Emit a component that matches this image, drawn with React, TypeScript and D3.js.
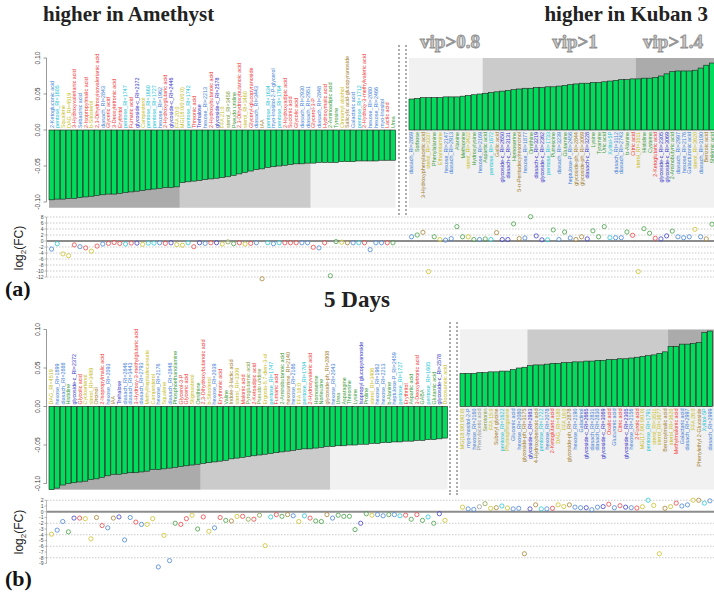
import React from 'react';
import * as d3 from 'd3';

const W = 714;
const H = 593;

const COLORS: Record<string, string> = {
  r: '#ee3b3b', b: '#3f7fd6', c: '#1cc3d4', y: '#c8bd1c', n: '#3535c8',
  g: '#3b9b3b', w: '#a37c2a', o: '#7fa040', s: '#9a9a9a',
};

// ---------- Panel (a): higher in Amethyst ----------
const leftA_names = [
  '2-Ketogluconic acid', 'pentose_RI=1605', 'Squalene', 'DAG_RI=4519', '3-Hydroxyvalerianic acid',
  'Sebacinic acid', '2-Isopropylmalic acid', 'b-Sitosterol', '2,3-Dihydroxyisovalerianic acid', 'diasach_RI=2843',
  'Glyceric acid', '3-Deoxytetronic acid', 'Erythritol', 'pentose_RI=1747', 'Fumaric acid',
  'glycoside-c_RI=2372', 'Campesterol', 'pentose_RI=1660', 'pentose_RI=1727', 'hexose_RI=1962',
  '2-Hydroxyglutaric acid', 'glycoside-c_RI=2446', 'FFA 20:0', 'MG(18:0/0:0/0:0)', 'pentose_RI=1742',
  'Threonic acid', 'Trehalose', 'hexose_RI=2213', '2-Hydroxybutanoic acid', 'glycoside-c_RI=2578',
  'FFA 21:0', 'sterol_RI=3458', 'Pseudo uridine', '2,3-Dihydroxybutanoic acid', 'sterol_RI=3460',
  'Glyceryl-glucopyranoside', 'diasach_RI=3443', 'IAA', 'pentose_RI=1634', 'myo-Inositol-2-P-glycerol',
  'pentose_RI=1764', '2-Hydroxyadipic acid', 'Succinic acid', 'Glycolic acid', 'diasach_RI=2930',
  'diasach_RI=2951', 'Glycerol-3-P', 'diasach_RI=2848', 'Hydroxymalic acid', '2-Aminoadipic acid',
  'Tyrosine', 'Cinnamyl alcohol', 'Salicylic acid-glucopyranoside', 'Galactaric acid', 'pentose_RI=1712',
  '2-Hydroxy-3-methylvaleric acid', 'hexose_RI=2080', 'hexose_RI=2466', 'myo-Inositol', 'Lactic acid',
  'Urea',
];
const leftA_cls = [
  'b', 'c', 'y', 'y', 'r', 'b', 'r', 'y', 'r', 'b',
  'r', 'r', 'r', 'c', 'r', 'n', 'y', 'c', 'c', 'b',
  'r', 'n', 'y', 'y', 'c', 'r', 'n', 'b', 'r', 'n',
  'y', 'o', 'g', 'r', 'y', 'r', 'b', 'w', 'c', 'b',
  'c', 'r', 'r', 'r', 'b', 'b', 'r', 'b', 'r', 'g',
  'g', 'y', 'w', 'b', 'c', 'r', 'b', 'b', 'b', 'r',
  'g',
];
const leftA_vip = [
  -0.097, -0.096, -0.096, -0.095, -0.095, -0.094, -0.093, -0.092, -0.091, -0.090,
  -0.089, -0.089, -0.088, -0.087, -0.086, -0.085, -0.084, -0.083, -0.082, -0.081,
  -0.080, -0.080, -0.079,
  -0.073, -0.072, -0.071, -0.070, -0.069, -0.068, -0.067, -0.066, -0.065, -0.063,
  -0.061, -0.059, -0.057, -0.055, -0.054, -0.052, -0.051, -0.050, -0.049, -0.048,
  -0.047, -0.047, -0.046,
  -0.046, -0.045, -0.045, -0.045, -0.045, -0.044, -0.044, -0.044, -0.043, -0.043,
  -0.043, -0.043, -0.042, -0.042, -0.042,
];
const leftA_groups = [23, 23, 15];
const leftA_fc = [
  -2.7, -0.9, -4.3, -4.9, -1.3, -1.9, -2.3, -3.4, -1.7, -1.0,
  -0.8, -0.5, -0.8, -1.0, -0.7, -0.7, -1.1, -0.7, -0.7, -0.6,
  -0.8, -0.6, -1.2, -1.4, -0.6, -1.9, -0.6, -0.8, -0.6, -0.6,
  -1.0, -0.3, -0.9, -0.6, -1.0, -0.8, -0.6, -12.6, -0.6, -0.9,
  -0.6, -0.6, -0.6, -0.6, -0.6, -0.6, -2.1, -2.3, -0.6, -11.6,
  -0.2, -0.4, -0.6, -0.6, -0.6, -0.6, -2.9, -0.6, -0.6, -0.6,
  -0.6,
];

const rightA_names = [
  'diasach_RI=2869', 'Sorbose', '3-Hydroxyphenylacetic acid', 'sterol_RI=3337', 'Phenylalanine',
  'Ethanolamine', 'hexose_RI=2147', 'diasach_RI=2913', 'Alanine', 'Methionine',
  'sterol_RI=3422', 'Hydroxylysine', 'hexose_RI=2169', 'Aspartic acid', 'pentose_RI=1672',
  'Gallic acid', 'glycoside-c_RI=2650', 'diasach-c_RI=3131', 'Homoserine', '5-n-Pentadecylresorcinol',
  'hexose_RI=1877', 'Ornithine', 'diasach-c_RI=3219', 'glycoside-c_RI=2362', 'pentose_RI=1733',
  'Putrescine', 'diasach_RI=3239', 'Glutamine', 'heptulose-P_RI=2456', 'glycoside-ph_RI=2844',
  'glycoside-ph_RI=3069', 'diasach-c_RI=3228', 'Lysine', 'Tyramine', 'Uric acid',
  'Xylitol-5P', 'diasach_RI=3112', 'diasach_RI=2743', 'b-Alanine', 'Citric acid',
  'sterol_RI=3511', 'Histidine', 'Cysteine', '2-Ketoglutaric acid', 'glycoside-c_RI=2305',
  'glycoside-c_RI=3069', '2-Aminobutyric acid', 'diasach_RI=2997', 'hexose_RI=2176', 'Galacturonic acid',
  'sterol_RI=3620', 'diasach_RI=3190', 'Benzoic acid', 'Shikimic acid',
];
const rightA_cls = [
  'b', 'g', 'w', 'y', 'g', 'y', 'b', 'b', 'g', 'g',
  'y', 'g', 'b', 'g', 'c', 'w', 'n', 'n', 'g', 'w',
  'b', 'g', 'n', 'n', 'c', 'g', 'b', 'g', 'b', 'w',
  'w', 'n', 'g', 'g', 'g', 'c', 'b', 'b', 'g', 'r',
  'y', 'g', 'g', 'r', 'n', 'n', 'g', 'b', 'b', 'b',
  'y', 'b', 'w', 'g',
];
const rightA_vip = [
  0.043, 0.044, 0.045, 0.045, 0.045, 0.045, 0.046, 0.046, 0.046, 0.047, 0.048, 0.049, 0.050,
  0.051, 0.052, 0.053, 0.054, 0.055, 0.056, 0.057, 0.058, 0.058, 0.059, 0.059, 0.060, 0.060,
  0.061, 0.062, 0.063, 0.064, 0.065, 0.065, 0.066, 0.066, 0.067, 0.068, 0.069, 0.070, 0.070, 0.071,
  0.071, 0.072, 0.072, 0.073, 0.075, 0.078, 0.081, 0.082, 0.082, 0.082, 0.083, 0.086, 0.090, 0.093,
];
const rightA_groups = [13, 27, 14];
const rightA_fc = [
  1.4, 2.0, 2.9, -10.2, 1.4, 0.5, 0.3, 0.8, 4.8, 1.4,
  1.4, 0.5, 0.5, 0.7, 0.5, 2.8, 0.5, 0.5, 5.7, 0.8,
  1.0, 8.1, 1.7, 0.4, 0.4, 3.7, 0.5, 3.0, 1.0, 0.5,
  1.4, 0.7, 3.4, 1.4, 4.8, 1.1, 1.1, 1.1, 3.0, 1.9,
  -10.2, 4.1, 2.6, 0.9, 0.7, 1.7, 3.3, 1.4, 1.1, 1.4,
  3.9, 1.4, 0.7, 5.6,
];

// ---------- Panel (b): 5 Days ----------
const leftB_names = [
  'DAG_RI=4519', 'hexose_RI=1899', 'diasach_RI=2888', 'Histidine', 'glycoside-c_RI=2372',
  'Glycolic acid', 'Cycloartenol', 'sterol_RI=3489', 'Orcinol', '2-Isopropylmalic acid',
  'hexose_RI=2093', 'IAA', 'Trehalose', 'diasach_RI=2846', 'diasach_RI=3443',
  '3-Hydroxy-3-methylglutaric acid', 'diasach_RI=2793', 'Methylheptadecanoate', 'Campesterol', 'hexose_RI=2176',
  'Squalene', 'diasach_RI=2848', 'Phosphoethanolamine', 'Glycerol-3-P', 'Glyceric acid',
  'Stigmasterol', 'Ornithine', '2,3-Dihydroxybutanoic acid', 'b-Sitosterol', 'hexose_RI=2039',
  'Erythronic acid', 'Valine', 'Indole-3-lactic acid', 'sterol_RI=3309', 'Malonic acid',
  'Pyroglutamic acid', '2-Ketoadipic acid', 'Pseudo uridine', 'Ergosta-5,7-dien-3-ol', 'pentose_RI=1747',
  'Fumaric acid', '2-Aminobutanoic acid', 'hexosamine_RI=2140', 'hexose_RI=2186', 'FFA 16:0',
  'pentose_RI=1704', '2-Hydroxyvaleric acid', 'Homoserine', 'Norleucine', 'glycoside-ph_RI=2808',
  'hexose_RI=2043', 'Urea', 'Asparagine', 'Threonine', 'Lysine',
  'Isopropyl glucopyranoside', 'Proline', 'sterol_RI=3406', 'hexose_RI=1962', 'hexose_RI=2213',
  'b-Alanine', 'heptulose-P_RI=2459', 'pentose_RI=1727', 'Erythritol', 'Aspartic acid',
  '3-Deoxytetronic acid', 'GABA', 'pentose_RI=1605', 'Glutamic acid', 'glycoside-c_RI=2578',
  'Docosanoic acid',
];
const leftB_cls = [
  'y', 'b', 'b', 'g', 'n', 'r', 'y', 'y', 'w', 'r',
  'b', 'w', 'n', 'b', 'b', 'r', 'b', 'y', 'y', 'b',
  'y', 'b', 'g', 'r', 'r', 'y', 'g', 'r', 'y', 'b',
  'r', 'g', 'w', 'y', 'r', 'o', 'r', 'o', 'y', 'c',
  'r', 'g', 'w', 'b', 'y', 'c', 'r', 'g', 'g', 'w',
  'b', 'g', 'g', 'g', 'g', 'n', 'g', 'y', 'b', 'b',
  'g', 'b', 'c', 'r', 'g', 'r', 'g', 'c', 'g', 'n',
  'y',
];
const leftB_vip = [
  -0.108, -0.106, -0.102, -0.100, -0.099, -0.098, -0.097, -0.095, -0.094, -0.092,
  -0.090, -0.088, -0.088, -0.087, -0.086, -0.086, -0.085, -0.084, -0.082, -0.082,
  -0.081, -0.080, -0.079, -0.078, -0.077, -0.076, -0.075,
  -0.074, -0.073, -0.072, -0.071, -0.070, -0.068, -0.067, -0.066, -0.065, -0.064,
  -0.063, -0.062, -0.061, -0.060, -0.059, -0.058, -0.057, -0.056, -0.055, -0.055,
  -0.054, -0.053, -0.052,
  -0.052, -0.051, -0.051, -0.050, -0.050, -0.049, -0.049, -0.048, -0.048, -0.047,
  -0.047, -0.046, -0.046, -0.045, -0.045, -0.044, -0.044, -0.043, -0.043, -0.042,
  -0.041,
];
const leftB_groups = [27, 23, 21];
const leftB_fc = [
  -3.9, -3.2, -1.7, -3.5, -1.1, -1.1, -1.2, -4.7, -1.0, -2.4,
  -2.8, -1.1, -0.9, -4.9, -1.0, -1.8, -2.2, -2.2, -1.2, -9.6,
  -4.1, -8.5, -2.0, -2.2, -1.2, -0.6, -3.0, -0.9, -3.4, -2.8,
  -1.0, -1.5, -1.6, -0.8, -0.8, -1.3, -1.3, -0.6, -5.9, -0.9,
  -0.5, -0.8, -0.5, -0.7, -1.7, -0.7, -1.1, -1.6, -1.7, -0.5,
  -1.1, -0.6, -0.8, -0.8, -3.1, -2.0, -0.35, -0.6, -0.5, -0.7,
  -0.5, -0.5, -0.7, -0.6, -1.3, -0.5, -1.5, -0.9, -2.0, -0.35,
  -1.5,
];

const rightB_names = [
  'MG(18:0/0:0/0:0)', 'myo-Inositol-2-P', 'hexose_RI=2160', 'Phenylacetic acid', 'Serotonin',
  'FFA 15:0', 'Suberyl glycine', 'pentose_RI=1622', 'Phytosphingosine', 'Gluconic acid',
  'hexose_RI=2080', 'glycoside-ph_RI=3175', 'glycoside-c_RI=2983', '4-Hydroxybenzoic acid', 'pentose_RI=1722',
  'hexose_RI=2078', '2-Ketoglutaric acid', 'DAG_RI=4180', 'FFA 18:0', 'glycoside-ph_RI=2878',
  'hexose_RI=2190', 'Galactinol', 'glycoside-c_RI=2665', 'diasach_RI=2831', 'diasach_RI=2830',
  'glycoside-c_RI=3069', 'Oxalic acid', 'Glucuronic acid', 'Citric acid', 'glycoside-c_RI=2305',
  'hexose_RI=2156', '2-Furoic acid', 'MG(17:0/0:0/0:0)', 'pentose_RI=1791', 'sterol_RI=3511',
  'sterol_RI=3677', 'Benzoylmalic acid', 'sterol_RI=3620', 'Methylmalonic acid', 'Galactaric acid',
  'diasach_RI=2997', 'FFA 26:0', 'Phenylethyl 2-Glucoside', 'Xylitol-5P', 'diasach_RI=2999',
];
const rightB_cls = [
  'y', 'b', 'b', 's', 'o', 'y', 'w', 'c', 'y', 'b',
  'b', 'w', 'n', 'w', 'c', 'b', 'r', 'y', 'y', 'w',
  'b', 'b', 'n', 'b', 'b', 'n', 'r', 'b', 'r', 'n',
  'b', 'r', 'y', 'c', 'y', 'y', 'w', 'y', 'r', 'b',
  'b', 'y', 'w', 'c', 'b',
];
const rightB_vip = [
  0.043, 0.043, 0.043, 0.044, 0.044, 0.045, 0.045, 0.046, 0.046, 0.048,
  0.050, 0.051, 0.053, 0.054, 0.054, 0.055, 0.056, 0.056, 0.057, 0.057,
  0.058, 0.058, 0.059, 0.059, 0.060, 0.060, 0.061, 0.061, 0.062, 0.062,
  0.063, 0.064, 0.065, 0.066, 0.067, 0.069, 0.071, 0.078, 0.078, 0.081,
  0.081, 0.082, 0.083, 0.096, 0.098,
];
const rightB_groups = [12, 25, 8];
const rightB_fc = [
  0.8, 0.5, 0.4, 0.87, 1.4, 0.6, 0.7, 1.0, 0.65, 0.5,
  0.6, -7.3, 0.5, 1.2, 0.5, 0.5, 0.6, 1.2, 0.9, 1.2,
  0.8, 0.7, 0.7, 0.35, 0.8, 0.9, 1.3, 0.7, 1.05, 0.8,
  0.7, 0.65, 0.87, 2.0, 1.1, -7.3, 0.6, 0.9, 1.5, 1.0,
  1.2, 2.0, 2.0, 1.5, 1.9,
];

const vipTickLabels = ['0.10', '0.05', '0.00', '-0.05', '-0.10'];
const vipTicks = [0.1, 0.05, 0, -0.05, -0.1];
const fcTicksA = [8, 6, 4, 2, 0, -2, -4, -6, -8, -10, -12];
const fcTicksB = [2, 1, 0, -1, -2, -3, -4, -5, -6, -7, -8, -9];
const fcGridB = [2, -2, -4, -6, -8];

const BG = ['#ababab', '#cbcbcb', '#f1f1f1'];
const BAR_FILL = '#00dc5c';
const SANS = "'Liberation Sans', Arial, sans-serif";
const SERIF = "'Liberation Serif', 'DejaVu Serif', serif";

type Side = {
  names: string[]; cls: string[]; vip: number[]; groups: number[]; fc: number[];
  x0: number; x1: number;
};

function band(side: Side) {
  return d3.scaleBand<number>().domain(d3.range(side.vip.length)).range([side.x0, side.x1]).paddingInner(0.1);
}

function groupRects(side: Side, x: d3.ScaleBand<number>) {
  const out: { a: number; b: number; k: number }[] = [];
  let start = 0;
  side.groups.forEach((n, k) => {
    const s = start;
    const e = start + n - 1;
    const step = x.step();
    const a = side.x0 + s * step;
    const b = Math.min(side.x1, side.x0 + (e + 1) * step);
    out.push({ a, b, k });
    start += n;
  });
  return out;
}

function BarPanel({ left, right, yTop, yBottom, sepX, sepY0, sepY1 }: {
  left: Side; right: Side; yTop: number; yBottom: number; sepX: number[]; sepY0: number; sepY1: number;
}) {
  const y = d3.scaleLinear().domain([-0.1, 0.1]).range([yBottom, yTop]);
  const xl = band(left);
  const xr = band(right);
  const y0 = y(0);
  const bgLow = y(-0.108);
  const gl = groupRects(left, xl);
  const gr = groupRects(right, xr);
  const fs = 5.4;
  return (
    <g>
      {/* backgrounds */}
      {gl.map((g) => (
        <rect key={'gl' + g.k} x={g.a} y={y0} width={g.b - g.a} height={bgLow - y0} fill={BG[g.k]} />
      ))}
      <rect x={right.x0} y={y(0.1)} width={W - right.x0} height={bgLow - y(0.1)} fill={BG[2]} />
      {gr.map((g) => (
        <rect key={'gr' + g.k} x={g.a} y={y(0.1)} width={(g.k === 2 ? W : g.b) - g.a} height={y0 - y(0.1)} fill={BG[2 - g.k]} />
      ))}
      {/* axis */}
      <line x1={46.5} x2={46.5} y1={y(0.1)} y2={y(-0.1)} stroke="#555" strokeWidth={0.6} />
      {vipTicks.map((t, i) => (
        <g key={'t' + i}>
          <line x1={43.5} x2={46.5} y1={y(t)} y2={y(t)} stroke="#555" strokeWidth={0.6} />
          <text transform={`translate(39.5,${y(t)}) rotate(-90)`} textAnchor="middle" fontSize={6.8} fontFamily={SANS} fill="#333">
            {vipTickLabels[i]}
          </text>
        </g>
      ))}
      {/* left bars */}
      {left.vip.map((v, i) => (
        <rect key={'lb' + i} x={xl(i)} y={y0} width={xl.bandwidth()} height={y(v) - y0} fill={BAR_FILL} stroke="#1e1e1e" strokeWidth={0.6} />
      ))}
      {left.names.map((n, i) => (
        <text key={'ll' + i} transform={`translate(${(xl(i) as number) + xl.bandwidth() / 2 + fs * 0.36},${y0 - 2}) rotate(-90)`}
          fontSize={fs} fontFamily={SANS} fill={COLORS[left.cls[i]]}>{n}</text>
      ))}
      {/* right bars */}
      {right.vip.map((v, i) => (
        <rect key={'rb' + i} x={xr(i)} y={y(v)} width={xr.bandwidth()} height={y0 - y(v)} fill={BAR_FILL} stroke="#1e1e1e" strokeWidth={0.6} />
      ))}
      {right.names.map((n, i) => (
        <text key={'rl' + i} transform={`translate(${(xr(i) as number) + xr.bandwidth() / 2 + fs * 0.36},${y0 + 2}) rotate(-90)`}
          textAnchor="end" fontSize={fs} fontFamily={SANS} fill={COLORS[right.cls[i]]}>{n}</text>
      ))}
      {/* separators */}
      {sepX.map((sx, i) => (
        <line key={'s' + i} x1={sx} x2={sx} y1={sepY0} y2={sepY1} stroke="#999" strokeWidth={1.6} strokeDasharray="2,2" />
      ))}
    </g>
  );
}

function LogPanel({ left, right, domain, yTop, yBottom, ticks, grid, sepX, sepY0, sepY1 }: {
  left: Side; right: Side; domain: [number, number]; yTop: number; yBottom: number; ticks: number[]; grid: number[];
  sepX: number[]; sepY0: number; sepY1: number;
}) {
  const y = d3.scaleLinear().domain(domain).range([yBottom, yTop]);
  const xl = band(left);
  const xr = band(right);
  return (
    <g>
      {grid.map((t) => (
        <line key={'g' + t} x1={47} x2={W} y1={y(t)} y2={y(t)} stroke="#bdbdbd" strokeWidth={0.8} strokeDasharray="1.5,1.5" />
      ))}
      <line x1={47} x2={W} y1={y(0)} y2={y(0)} stroke="#8c8c8c" strokeWidth={2} />
      <line x1={46.5} x2={46.5} y1={y(domain[1])} y2={y(domain[0])} stroke="#777" strokeWidth={0.5} />
      {ticks.map((t) => (
        <g key={'t' + t}>
          <line x1={44.5} x2={46.5} y1={y(t)} y2={y(t)} stroke="#777" strokeWidth={0.5} />
          <text x={43.5} y={y(t) + 1.8} textAnchor="end" fontSize={5} fontFamily={SANS} fill="#444">{t}</text>
        </g>
      ))}
      {sepX.map((sx, i) => (
        <line key={'s' + i} x1={sx} x2={sx} y1={sepY0} y2={sepY1} stroke="#999" strokeWidth={1.6} strokeDasharray="2,2" />
      ))}
      {left.fc.map((v, i) => (
        <circle key={'lp' + i} cx={(xl(i) as number) + xl.bandwidth() / 2} cy={y(v)} r={2.1}
          fill="#fff" fillOpacity={0.4} stroke={COLORS[left.cls[i]]} strokeOpacity={0.75} strokeWidth={1} />
      ))}
      {right.fc.map((v, i) => (
        <circle key={'rp' + i} cx={(xr(i) as number) + xr.bandwidth() / 2} cy={y(v)} r={2.1}
          fill="#fff" fillOpacity={0.4} stroke={COLORS[right.cls[i]]} strokeOpacity={0.75} strokeWidth={1} />
      ))}
    </g>
  );
}

function FcLabel({ cx, cy }: { cx: number; cy: number }) {
  return (
    <text transform={`translate(${cx},${cy}) rotate(-90)`} textAnchor="middle" fontSize={12} fontFamily={SANS} fill="#222">
      log<tspan fontSize={8} dy={3}>2</tspan><tspan dy={-3}>(FC)</tspan>
    </text>
  );
}

function VipText({ x, y, t }: { x: number; y: number; t: string }) {
  return (
    <text x={x} y={y} textAnchor="middle" fontSize={19} fontWeight="bold" fontFamily={SERIF}
      fill="#c9c9c9" stroke="#8f8f8f" strokeWidth={0.9}>{t}</text>
  );
}

export default function App() {
  const leftA: Side = { names: leftA_names, cls: leftA_cls, vip: leftA_vip, groups: leftA_groups, fc: leftA_fc, x0: 49, x1: 395.5 };
  const rightA: Side = { names: rightA_names, cls: rightA_cls, vip: rightA_vip, groups: rightA_groups, fc: rightA_fc, x0: 409, x1: 714.5 };
  const leftB: Side = { names: leftB_names, cls: leftB_cls, vip: leftB_vip, groups: leftB_groups, fc: leftB_fc, x0: 49, x1: 447.5 };
  const rightB: Side = { names: rightB_names, cls: rightB_cls, vip: rightB_vip, groups: rightB_groups, fc: rightB_fc, x0: 460, x1: 712.5 };
  return (
    <svg width={W} height={H} style={{ position: 'absolute', left: 0, top: 0, background: '#fff' }}>
      <rect width={W} height={H} fill="#fff" />
      <text x={43} y={21} fontSize={21} fontWeight="bold" fontFamily={SERIF} fill="#222">higher in Amethyst</text>
      <text x={708} y={21} textAnchor="end" fontSize={21} fontWeight="bold" fontFamily={SERIF} fill="#222">higher in Kuban 3</text>
      <VipText x={450} y={48} t="vip>0.8" />
      <VipText x={575} y={48} t="vip>1" />
      <VipText x={673} y={48} t="vip>1.4" />
      <BarPanel left={leftA} right={rightA} yTop={58} yBottom={202} sepX={[399, 406]} sepY0={45} sepY1={213} />
      <LogPanel left={leftA} right={rightA} domain={[-12, 8]} yTop={217} yBottom={277} ticks={fcTicksA} grid={fcTicksA}
        sepX={[399, 406]} sepY0={213} sepY1={215} />
      <FcLabel cx={23} cy={248} />
      <text x={5} y={296} fontSize={22} fontWeight="bold" fontFamily={SERIF} fill="#111">(a)</text>
      <text x={357} y={307} textAnchor="middle" fontSize={23} fontWeight="bold" fontFamily={SERIF} fill="#222">5 Days</text>
      <BarPanel left={leftB} right={rightB} yTop={329.5} yBottom={483.5} sepX={[450, 457]} sepY0={322} sepY1={493} />
      <LogPanel left={leftB} right={rightB} domain={[-9, 2]} yTop={500.25} yBottom={563.5} ticks={fcTicksB} grid={fcGridB}
        sepX={[450, 457]} sepY0={493} sepY1={495} />
      <FcLabel cx={23} cy={532} />
      <text x={5} y={586} fontSize={22} fontWeight="bold" fontFamily={SERIF} fill="#111">(b)</text>
    </svg>
  );
}
